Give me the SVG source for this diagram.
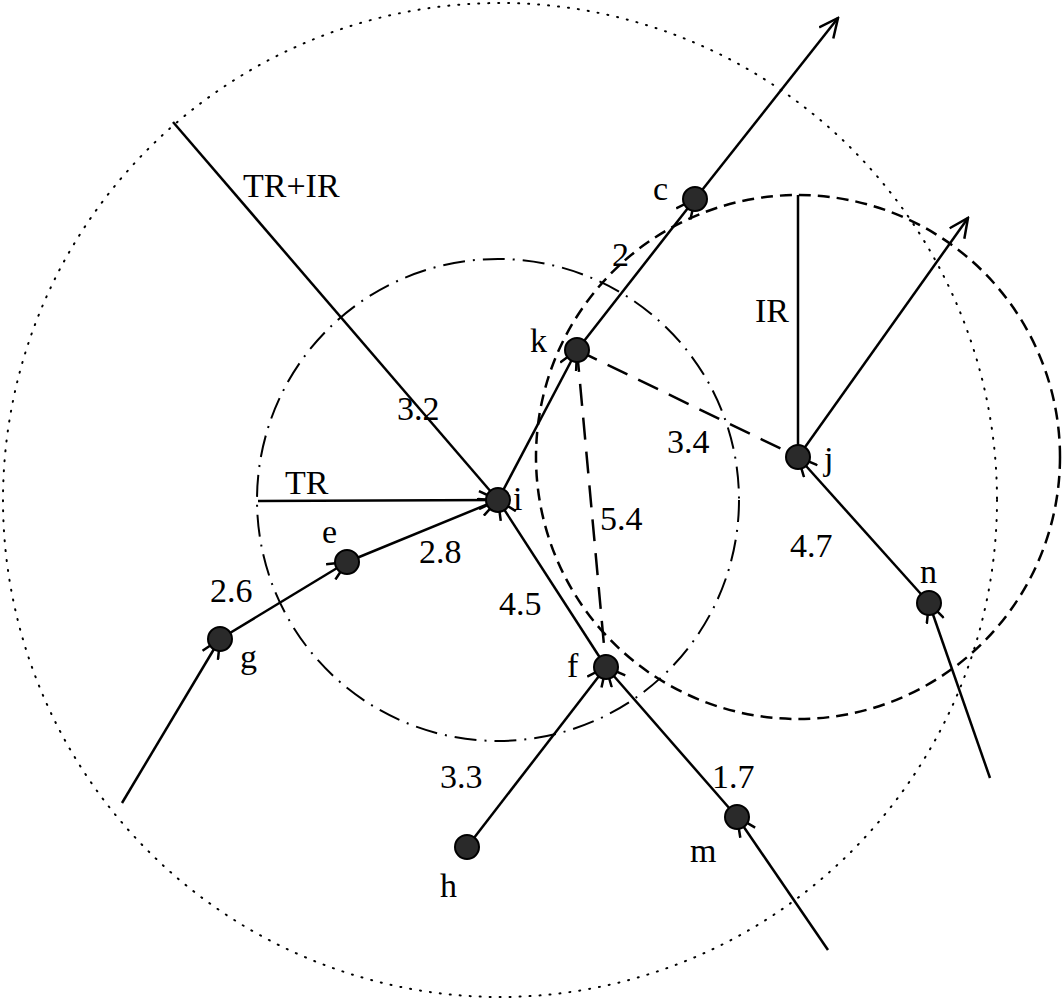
<svg xmlns="http://www.w3.org/2000/svg" width="1062" height="1000" viewBox="0 0 1062 1000">
<style>
.l{stroke:#000;stroke-width:2.5;fill:none}
.a{marker-end:url(#ar)}
.n{fill:#2a2a2a;stroke:#000;stroke-width:2}
text{font-family:"Liberation Serif",serif;font-size:34px;fill:#000}
</style>
<defs>
<marker id="ar" viewBox="-20 -10 22 20" refX="0" refY="0" markerWidth="22" markerHeight="20" markerUnits="userSpaceOnUse" orient="auto"><path d="M-19,-9 L0,0 L-19,9" fill="none" stroke="#000" stroke-width="2.5"/></marker>
</defs>
<rect width="1062" height="1000" fill="#fff"/>
<g id="circles">
<circle cx="500" cy="500" r="497" fill="none" stroke="#000" stroke-width="2" stroke-dasharray="1,9" stroke-linecap="round"/>
<circle cx="498" cy="500" r="241" fill="none" stroke="#000" stroke-width="2" stroke-dasharray="22,8,2,8"/>
<circle cx="798" cy="457" r="262" fill="none" stroke="#000" stroke-width="2.5" stroke-dasharray="12,7"/>
</g>
<g id="connectors">
<line class="l" x1="173" y1="122" x2="498" y2="500"/>
<line class="l a" x1="258" y1="501" x2="498" y2="500"/>
<line class="l" x1="798" y1="195" x2="798" y2="457"/>
<line class="l a" x1="122" y1="803" x2="220" y2="639"/>
<line class="l a" x1="220" y1="639" x2="347" y2="562"/>
<line class="l a" x1="347" y1="562" x2="498" y2="500"/>
<line class="l a" x1="498" y1="500" x2="577" y2="350"/>
<line class="l a" x1="577" y1="350" x2="695" y2="199"/>
<line class="l a" x1="695" y1="199" x2="838" y2="18"/>
<line class="l a" x1="606" y1="667" x2="498" y2="500"/>
<line class="l a" x1="467" y1="847" x2="606" y2="667"/>
<line class="l a" x1="737" y1="817" x2="606" y2="667"/>
<line class="l a" x1="828" y1="950" x2="737" y2="817"/>
<line class="l a" x1="990" y1="778" x2="929" y2="603"/>
<line class="l a" x1="929" y1="603" x2="798" y2="457"/>
<line class="l a" x1="798" y1="457" x2="968" y2="218"/>
<line class="l" x1="577" y1="350" x2="798" y2="457" stroke-dasharray="22,12"/>
<line class="l" x1="577" y1="350" x2="606" y2="667" stroke-dasharray="22,12"/>
</g>
<g id="node-c"><circle class="n" cx="695" cy="199" r="12"/><text x="653" y="200">c</text></g>
<g id="node-k"><circle class="n" cx="577" cy="350" r="12"/><text x="530" y="352">k</text></g>
<g id="node-i"><circle class="n" cx="498" cy="500" r="12"/><text x="513" y="510">i</text></g>
<g id="node-e"><circle class="n" cx="347" cy="562" r="12"/><text x="322" y="543">e</text></g>
<g id="node-g"><circle class="n" cx="220" cy="639" r="12"/><text x="240" y="668">g</text></g>
<g id="node-f"><circle class="n" cx="606" cy="667" r="12"/><text x="567" y="677">f</text></g>
<g id="node-h"><circle class="n" cx="467" cy="847" r="12"/><text x="440" y="897">h</text></g>
<g id="node-m"><circle class="n" cx="737" cy="817" r="12"/><text x="690" y="862">m</text></g>
<g id="node-n"><circle class="n" cx="929" cy="603" r="12"/><text x="920" y="583">n</text></g>
<g id="node-j"><circle class="n" cx="798" cy="457" r="12"/><text x="824" y="470">j</text></g>
<g id="labels">
<text x="243" y="197">TR+IR</text>
<text x="285" y="494">TR</text>
<text x="755" y="322">IR</text>
<text x="612" y="266">2</text>
<text x="397" y="420">3.2</text>
<text x="667" y="453">3.4</text>
<text x="600" y="530">5.4</text>
<text x="419" y="563">2.8</text>
<text x="210" y="602">2.6</text>
<text x="499" y="615">4.5</text>
<text x="790" y="557">4.7</text>
<text x="440" y="788">3.3</text>
<text x="712" y="788">1.7</text>
</g>
</svg>
